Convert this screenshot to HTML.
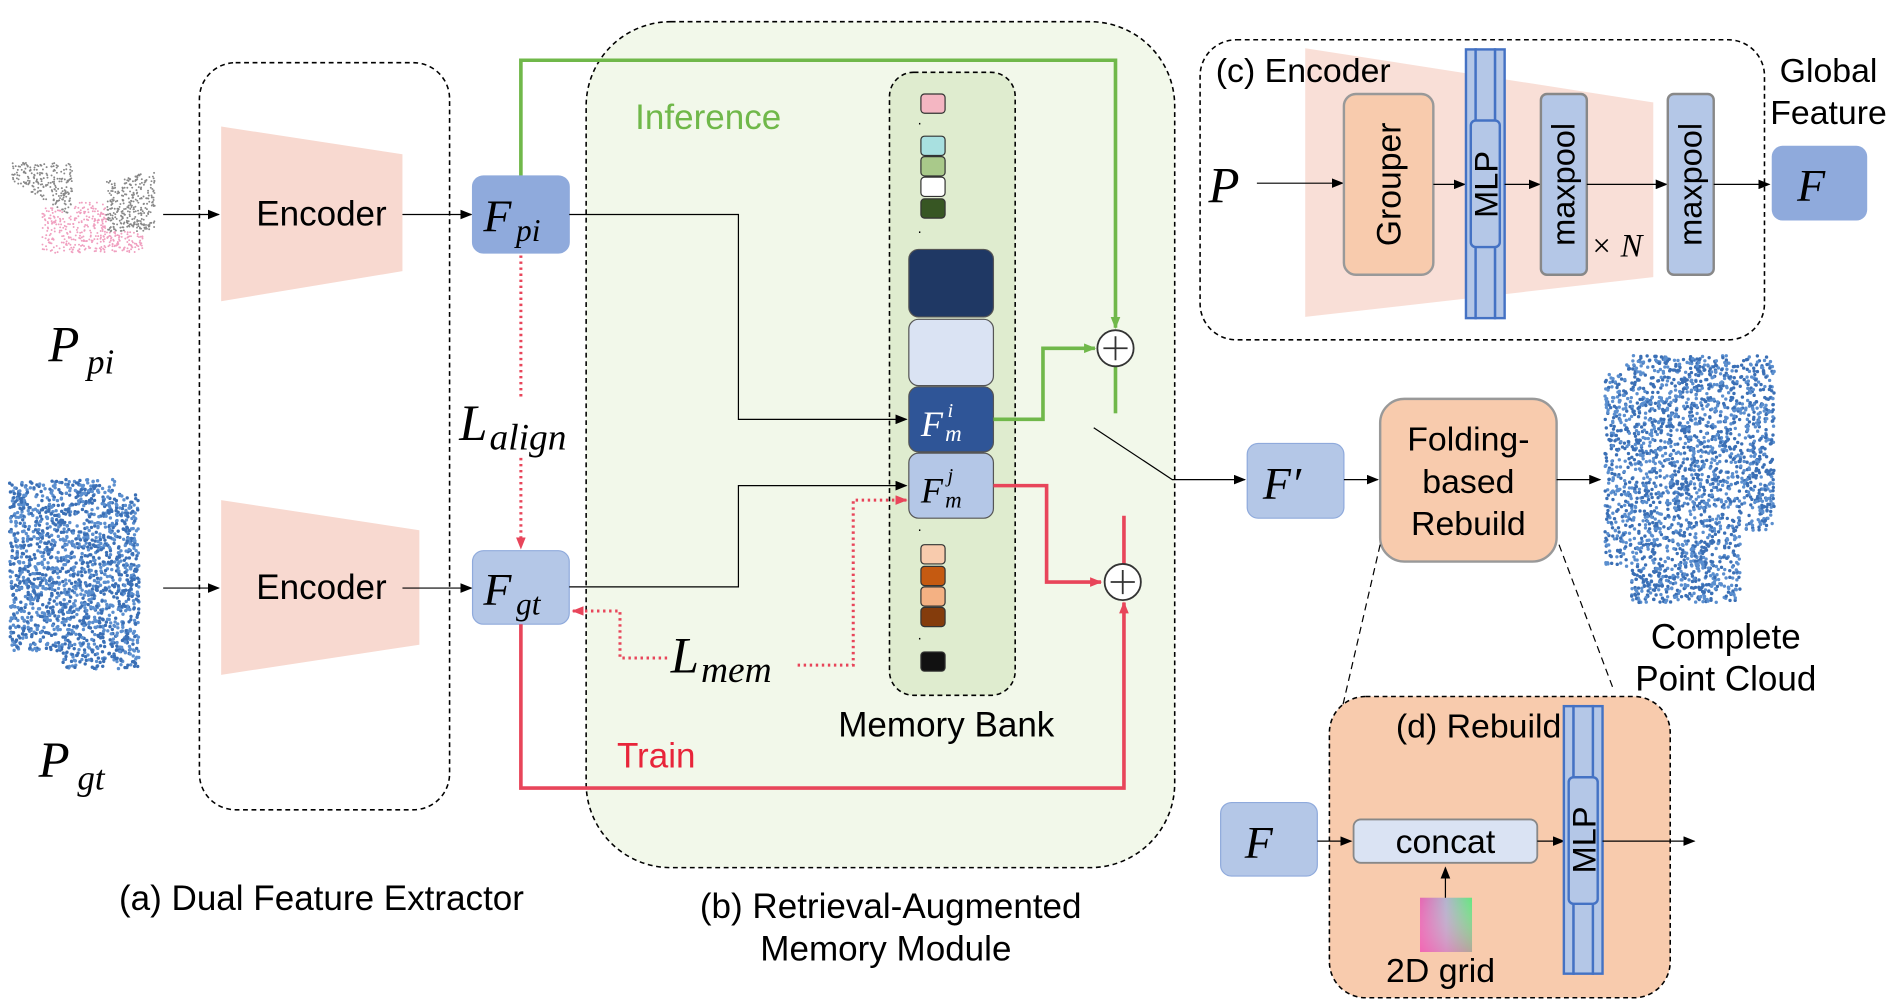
<!DOCTYPE html>
<html><head><meta charset="utf-8"><style>
html,body{margin:0;padding:0;background:#fff}
svg{display:block}
text{font-family:"Liberation Sans",sans-serif}
.m{font-family:"Liberation Serif",serif;font-style:italic}
</style></head><body>
<svg id="s" width="1895" height="1005" viewBox="0 0 1568 834" preserveAspectRatio="none" xmlns="http://www.w3.org/2000/svg">
<defs>
<marker id="ak" markerWidth="10" markerHeight="8" refX="9" refY="4" orient="auto" markerUnits="userSpaceOnUse"><path d="M0,0L10,4L0,8z" fill="#000"/></marker>
<marker id="ag" markerWidth="10" markerHeight="8" refX="9" refY="4" orient="auto" markerUnits="userSpaceOnUse"><path d="M0,0L10,4L0,8z" fill="#70b84a"/></marker>
<marker id="ar" markerWidth="10" markerHeight="8" refX="9" refY="4" orient="auto" markerUnits="userSpaceOnUse"><path d="M0,0L10,4L0,8z" fill="#e8455a"/></marker>
<linearGradient id="gh" x1="0" x2="1"><stop offset="0" stop-color="#e040a0"/><stop offset=".5" stop-color="#a0a0c0"/><stop offset="1" stop-color="#40e060"/></linearGradient>
<linearGradient id="gv" x1="0" y1="0" x2="0" y2="1"><stop offset="0" stop-color="#fff" stop-opacity=".2"/><stop offset="1" stop-color="#ff80c0" stop-opacity=".6"/></linearGradient>
</defs>
<rect x="485" y="18" width="487" height="702" rx="70" fill="#f2f8ea" stroke="#000" stroke-dasharray="4,3" stroke-width="1.3"/>
<rect x="165" y="52" width="207" height="620" rx="30" fill="none" stroke="#000" stroke-dasharray="4,3" stroke-width="1.3"/>
<polygon points="183,105 333,128 333,225 183,250" fill="#f8d9d0"/>
<polygon points="183,415 347,440 347,535 183,560" fill="#f8d9d0"/>
<text x="266" y="187" font-size="29" text-anchor="middle">Encoder</text>
<text x="266" y="497" font-size="29" text-anchor="middle">Encoder</text>
<g id="pc"></g>
<text x="40" y="300" class="m" font-size="42">P</text><text x="72" y="310" class="m" font-size="29">pi</text>
<text x="32" y="645" class="m" font-size="42">P</text><text x="64" y="655" class="m" font-size="29">gt</text>
<line x1="135" y1="178" x2="181" y2="178" stroke="#000" marker-end="url(#ak)"/>
<line x1="135" y1="488" x2="181" y2="488" stroke="#000" marker-end="url(#ak)"/>
<line x1="333" y1="178" x2="390" y2="178" stroke="#000" marker-end="url(#ak)"/>
<line x1="333" y1="488" x2="390" y2="488" stroke="#000" marker-end="url(#ak)"/>
<polyline points="431,146 431,50 923,50 923,272" fill="none" stroke="#70b84a" stroke-width="3" marker-end="url(#ag)"/>
<line x1="923" y1="304" x2="923" y2="343" stroke="#70b84a" stroke-width="3"/>
<rect x="736" y="60" width="104" height="517" rx="20" fill="#dfeccf" stroke="#000" stroke-dasharray="4,3" stroke-width="1.3"/>
<g stroke="#333" stroke-width="1">
<rect x="762" y="78" width="20" height="16" rx="3" fill="#f4b6c2"/>
<rect x="762" y="113" width="20" height="16" rx="3" fill="#a8e0e0"/>
<rect x="762" y="130" width="20" height="16" rx="3" fill="#a9c98a"/>
<rect x="762" y="147" width="20" height="16" rx="3" fill="#fff"/>
<rect x="762" y="165" width="20" height="16" rx="3" fill="#375623"/>
<rect x="762" y="452" width="20" height="16" rx="3" fill="#f8cbad"/>
<rect x="762" y="470" width="20" height="16" rx="3" fill="#c55a11"/>
<rect x="762" y="487" width="20" height="16" rx="3" fill="#f4b183"/>
<rect x="762" y="504" width="20" height="16" rx="3" fill="#843c0c"/>
<rect x="762" y="541" width="20" height="16" rx="3" fill="#111"/>
</g>
<text x="759" y="106" font-size="12">·</text><text x="759" y="196" font-size="12">·</text><text x="759" y="443" font-size="12">·</text><text x="759" y="533" font-size="12">·</text>
<rect x="752" y="207" width="70" height="56" rx="8" fill="#1f3864" stroke="#555"/>
<rect x="752" y="265" width="70" height="55" rx="8" fill="#dae3f3" stroke="#555"/>
<rect x="752" y="321" width="70" height="54" rx="8" fill="#2f5597" stroke="#555"/>
<rect x="752" y="376" width="70" height="54" rx="8" fill="#b4c7e7" stroke="#555"/>
<text x="762" y="362" class="m" font-size="30" fill="#fff">F</text><text x="784" y="346" class="m" font-size="17" fill="#fff">i</text><text x="782" y="366" class="m" font-size="19" fill="#fff">m</text>
<text x="762" y="417" class="m" font-size="30">F</text><text x="784" y="400" class="m" font-size="17">j</text><text x="782" y="421" class="m" font-size="19">m</text>
<text x="783" y="611" font-size="29" text-anchor="middle">Memory Bank</text>
<text x="586" y="107" font-size="29" fill="#70b84a" text-anchor="middle">Inference</text>
<text x="543" y="637" font-size="29" fill="#e8253a" text-anchor="middle">Train</text>
<rect x="391" y="146" width="80" height="64" rx="9" fill="#8faadc" stroke="#8faadc"/>
<text x="400" y="192" class="m" font-size="38">F</text><text x="427" y="200" class="m" font-size="26">pi</text>
<rect x="391" y="457" width="80" height="61" rx="9" fill="#b4c7e7" stroke="#8faadc"/>
<text x="400" y="502" class="m" font-size="38">F</text><text x="427" y="510" class="m" font-size="26">gt</text>
<polyline points="471,178 611,178 611,348 750,348" fill="none" stroke="#000" marker-end="url(#ak)"/>
<polyline points="471,487 611,487 611,403 750,403" fill="none" stroke="#000" marker-end="url(#ak)"/>
<polyline points="822,348 863,348 863,289 906,289" fill="none" stroke="#70b84a" stroke-width="3" marker-end="url(#ag)"/>
<polyline points="822,403 866,403 866,483 911,483" fill="none" stroke="#e8455a" stroke-width="3" marker-end="url(#ar)"/>
<line x1="930" y1="428" x2="930" y2="468" stroke="#e8455a" stroke-width="3"/>
<polyline points="431,518 431,654 930,654 930,500" fill="none" stroke="#e8455a" stroke-width="3" marker-end="url(#ar)"/>
<circle cx="923" cy="289" r="15" fill="#fff" stroke="#333" stroke-width="1.5"/>
<path d="M913,289H933M923,279V299" stroke="#333" stroke-width="1.5"/>
<circle cx="929" cy="483" r="15" fill="#fff" stroke="#333" stroke-width="1.5"/>
<path d="M919,483H939M929,473V493" stroke="#333" stroke-width="1.5"/>
<line x1="431" y1="212" x2="431" y2="330" stroke="#e8455a" stroke-width="2.5" stroke-dasharray="2,3"/>
<line x1="431" y1="380" x2="431" y2="455" stroke="#e8455a" stroke-width="2.5" stroke-dasharray="2,3" marker-end="url(#ar)"/>
<polyline points="552,546 513,546 513,507 474,507" fill="none" stroke="#e8455a" stroke-width="2.5" stroke-dasharray="2,3" marker-end="url(#ar)"/>
<polyline points="660,552 706,552 706,415 750,415" fill="none" stroke="#e8455a" stroke-width="2.5" stroke-dasharray="2,3" marker-end="url(#ar)"/>
<text x="380" y="365" class="m" font-size="42">L</text><text x="405" y="373" class="m" font-size="31">align</text>
<text x="555" y="558" class="m" font-size="42">L</text><text x="580" y="566" class="m" font-size="31">mem</text>
<polyline points="905,355 970,398 1030,398" fill="none" stroke="#000" marker-end="url(#ak)"/>
<rect x="1032" y="368" width="80" height="62" rx="9" fill="#b4c7e7" stroke="#8faadc"/>
<text x="1045" y="414" class="m" font-size="38">F′</text>
<line x1="1112" y1="398" x2="1140" y2="398" stroke="#000" marker-end="url(#ak)"/>
<rect x="1142" y="331" width="146" height="135" rx="20" fill="#f8cbad" stroke="#999" stroke-width="2"/>
<text x="1215" y="374" font-size="28" text-anchor="middle">Folding-</text>
<text x="1215" y="409" font-size="28" text-anchor="middle">based</text>
<text x="1215" y="444" font-size="28" text-anchor="middle">Rebuild</text>
<line x1="1288" y1="398" x2="1324" y2="398" stroke="#000" marker-end="url(#ak)"/>
<text x="1428" y="538" font-size="29" text-anchor="middle">Complete</text>
<text x="1428" y="573" font-size="29" text-anchor="middle">Point Cloud</text>
<line x1="1142" y1="452" x2="1110" y2="590" stroke="#000" stroke-dasharray="6,4"/>
<line x1="1290" y1="452" x2="1335" y2="572" stroke="#000" stroke-dasharray="6,4"/>
<rect x="1100" y="578" width="282" height="250" rx="30" fill="#f8cbad" stroke="#000" stroke-dasharray="4,3" stroke-width="1.3"/>
<text x="1155" y="612" font-size="28">(d) Rebuild</text>
<rect x="1010" y="666" width="80" height="61" rx="9" fill="#b4c7e7" stroke="#8faadc"/>
<text x="1030" y="712" class="m" font-size="38">F</text>
<line x1="1090" y1="698" x2="1118" y2="698" stroke="#000" marker-end="url(#ak)"/>
<rect x="1120" y="680" width="152" height="36" rx="6" fill="#dae3f3" stroke="#888" stroke-width="1.5"/>
<text x="1196" y="708" font-size="28" text-anchor="middle">concat</text>
<line x1="1272" y1="698" x2="1294" y2="698" stroke="#000" marker-end="url(#ak)"/>
<g fill="#b4c7e7" stroke="#4472c4" stroke-width="2">
<rect x="1294" y="586" width="8" height="222"/><rect x="1318" y="586" width="8" height="222"/><rect x="1302" y="586" width="16" height="222"/>
<rect x="1298" y="645" width="24" height="105" rx="4"/></g>
<text x="1310" y="697" font-size="27" text-anchor="middle" transform="rotate(-90 1310 697)" dy="10">MLP</text>
<line x1="1326" y1="698" x2="1402" y2="698" stroke="#000" marker-end="url(#ak)"/>
<rect x="1175" y="745" width="43" height="45" fill="url(#gh)"/><rect x="1175" y="745" width="43" height="45" fill="url(#gv)"/>
<line x1="1196" y1="745" x2="1196" y2="720" stroke="#000" marker-end="url(#ak)"/>
<text x="1192" y="815" font-size="28" text-anchor="middle">2D grid</text>
<rect x="993" y="33" width="467" height="249" rx="30" fill="#fff" stroke="#000" stroke-dasharray="4,3" stroke-width="1.3"/>
<polygon points="1080,40 1368,85 1368,230 1080,263" fill="#f8d9d0" opacity=".85"/>
<text x="1006" y="68" font-size="28">(c) Encoder</text>
<text x="1000" y="168" class="m" font-size="42">P</text>
<line x1="1040" y1="152" x2="1111" y2="152" stroke="#000" marker-end="url(#ak)"/>
<rect x="1112" y="78" width="74" height="150" rx="10" fill="#f8cbad" stroke="#999" stroke-width="2"/>
<text x="1149" y="153" font-size="28" text-anchor="middle" transform="rotate(-90 1149 153)" dy="10">Grouper</text>
<line x1="1186" y1="153" x2="1212" y2="153" stroke="#000" marker-end="url(#ak)"/>
<g fill="#b4c7e7" stroke="#4472c4" stroke-width="2">
<rect x="1213" y="41" width="8" height="223"/><rect x="1237" y="41" width="8" height="223"/><rect x="1221" y="41" width="16" height="223"/>
<rect x="1217" y="100" width="24" height="105" rx="4"/></g>
<text x="1229" y="153" font-size="27" text-anchor="middle" transform="rotate(-90 1229 153)" dy="10">MLP</text>
<line x1="1245" y1="153" x2="1274" y2="153" stroke="#000" marker-end="url(#ak)"/>
<rect x="1275" y="78" width="38" height="150" rx="5" fill="#b4c7e7" stroke="#888" stroke-width="2"/>
<text x="1294" y="153" font-size="27" text-anchor="middle" transform="rotate(-90 1294 153)" dy="9">maxpool</text>
<line x1="1313" y1="153" x2="1379" y2="153" stroke="#000" marker-end="url(#ak)"/>
<text x="1316" y="213" class="m" font-size="27">× N</text>
<rect x="1380" y="78" width="38" height="150" rx="5" fill="#b4c7e7" stroke="#888" stroke-width="2"/>
<text x="1399" y="153" font-size="27" text-anchor="middle" transform="rotate(-90 1399 153)" dy="9">maxpool</text>
<line x1="1418" y1="153" x2="1464" y2="153" stroke="#000" marker-end="url(#ak)"/>
<text x="1513" y="68" font-size="28" text-anchor="middle">Global</text>
<text x="1513" y="103" font-size="28" text-anchor="middle">Feature</text>
<rect x="1466" y="121" width="79" height="62" rx="9" fill="#8faadc"/>
<text x="1487" y="167" class="m" font-size="38">F</text>
<text x="266" y="755" font-size="29" text-anchor="middle">(a) Dual Feature Extractor</text>
<text x="737" y="762" font-size="29" text-anchor="middle">(b) Retrieval-Augmented</text>
<text x="733" y="797" font-size="29" text-anchor="middle">Memory Module</text>
</svg>
<script>
(function(){
var g=document.getElementById('pc'),ns="http://www.w3.org/2000/svg",s=7;
function r(){s=(s*16807)%2147483647;return s/2147483647;}
function dot(x,y,c,rad){var e=document.createElementNS(ns,'circle');e.setAttribute('cx',x);e.setAttribute('cy',y);e.setAttribute('r',rad);e.setAttribute('fill',c);g.appendChild(e);}
var i,x,y;
for(i=0;i<1400;i++){x=10+r()*120;y=135+r()*75;
 var c=null;
 if(x<60&&y<150+(x-10)*0.6&&y<192)c='#888';
 else if(x>88&&x<128&&y>142+(128-x)*0.2&&y<192)c='#888';
 else if(y>168&&y<212&&x>35&&x<118&&y>165+Math.abs(x-76)*0.2)c='#f0a0c0';
 if(c)dot(x,y,c,0.8);}
for(i=0;i<1800;i++){x=8+r()*107;y=398+r()*157;if(y>540&&x<50)continue;if(y<410&&x>95)continue;dot(x,y,r()<.5?'#3a6fb5':'#5b8fcf',1.4);}
for(i=0;i<2600;i++){x=1328+r()*140;y=295+r()*205;if(y>440&&x>1440)continue;if(y>470&&x<1350)continue;if(y<310&&x<1345)continue;dot(x,y,r()<.5?'#3a6fb5':'#5b8fcf',1.4);}
})();
</script>
</body></html>
